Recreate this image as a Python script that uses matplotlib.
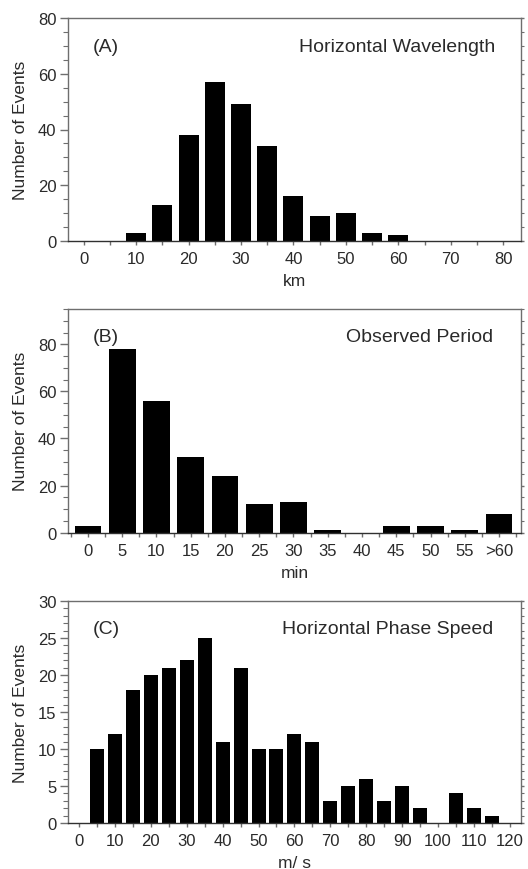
import numpy as np
import matplotlib.pyplot as plt
from matplotlib.ticker import MultipleLocator

plt.rcParams['font.family'] = ['Liberation Sans', 'DejaVu Sans']

# (A) horizontal wavelength, km
wl_bins = [10, 15, 20, 25, 30, 35, 40, 45, 50, 55, 60]
wl_counts = [3, 13, 38, 57, 49, 34, 16, 9, 10, 3, 2]

# (B) observed period, min
period_labels = ['0', '5', '10', '15', '20', '25', '30', '35', '40', '45', '50', '55', '>60']
period_counts = [3, 78, 56, 32, 24, 12, 13, 1, 0, 3, 3, 1, 8]

# (C) horizontal phase speed, m/s
speed_bins = [5, 10, 15, 20, 25, 30, 35, 40, 45, 50, 55, 60, 65, 70, 75, 80,
              85, 90, 95, 100, 105, 110, 115]
speed_counts = [10, 12, 18, 20, 21, 22, 25, 11, 21, 10, 10, 12, 11, 3, 5, 6,
                3, 5, 2, 0, 4, 2, 1]

spine_col = '#6e6e6e'
text_col = '#2a2a2a'


def style_axes(ax):
    for side in ['top', 'right', 'left', 'bottom']:
        ax.spines[side].set_color(spine_col)
        ax.spines[side].set_linewidth(1.0)
    ax.spines['bottom'].set_color('#303030')
    ax.tick_params(which='both', direction='out', colors=spine_col,
                   labelcolor=text_col, labelsize=12, right=True, top=False)
    # y ticks: long majors, shorter minors; right side ticks are tiny
    ax.tick_params(axis='y', which='major', length=5.8, width=1.0, pad=2.5)
    ax.tick_params(axis='y', which='minor', length=3.6, width=0.8)
    ax.tick_params(axis='x', which='both', length=2.9, width=1.0, pad=4.5)
    for t in ax.yaxis.get_major_ticks() + ax.yaxis.get_minor_ticks():
        t.tick2line.set_markersize(2.5)
    ax.set_ylabel('Number of Events', fontsize=12.5, color=text_col, labelpad=7)


fig = plt.figure(figsize=(5.28, 8.7), dpi=100)
left, width = 0.1288, 0.8579

# panel A
ax1 = fig.add_axes([left, 0.7218, width, 0.2564])
ax1.bar(wl_bins, wl_counts, width=3.8, color='black')
ax1.set_xlim(-3, 83.4)
ax1.set_ylim(0, 80)
ax1.xaxis.set_major_locator(MultipleLocator(10))
ax1.xaxis.set_minor_locator(MultipleLocator(5))
ax1.yaxis.set_major_locator(MultipleLocator(20))
ax1.yaxis.set_minor_locator(MultipleLocator(5))
style_axes(ax1)
ax1.set_xlabel('km', fontsize=12.5, color=text_col, labelpad=5)
ax1.text(0.055, 0.874, '(A)', transform=ax1.transAxes, fontsize=14,
         color=text_col, va='center', ha='left')
ax1.text(0.943, 0.874, 'Horizontal Wavelength', transform=ax1.transAxes,
         fontsize=14, color=text_col, va='center', ha='right')

# panel B
ax2 = fig.add_axes([left, 0.3866, width, 0.2571])
xpos = np.arange(len(period_labels))
ax2.bar(xpos, period_counts, width=0.78, color='black')
ax2.set_xlim(-0.58, 12.64)
ax2.set_ylim(0, 95)
ax2.set_xticks(xpos)
ax2.set_xticklabels(period_labels)
ax2.xaxis.set_minor_locator(MultipleLocator(0.5))
ax2.yaxis.set_major_locator(MultipleLocator(20))
ax2.yaxis.set_minor_locator(MultipleLocator(5))
style_axes(ax2)
ax2.set_xlabel('min', fontsize=12.5, color=text_col, labelpad=5)
ax2.text(0.055, 0.879, '(B)', transform=ax2.transAxes, fontsize=14,
         color=text_col, va='center', ha='left')
ax2.text(0.938, 0.879, 'Observed Period', transform=ax2.transAxes,
         fontsize=14, color=text_col, va='center', ha='right')

# panel C
ax3 = fig.add_axes([left, 0.0529, width, 0.2551])
ax3.bar(speed_bins, speed_counts, width=3.9, color='black')
ax3.set_xlim(-3.06, 123.1)
ax3.set_ylim(0, 30)
ax3.xaxis.set_major_locator(MultipleLocator(10))
ax3.xaxis.set_minor_locator(MultipleLocator(5))
ax3.yaxis.set_major_locator(MultipleLocator(5))
ax3.yaxis.set_minor_locator(MultipleLocator(1))
style_axes(ax3)
ax3.set_xlabel('m/ s', fontsize=12.5, color=text_col, labelpad=5)
ax3.text(0.055, 0.878, '(C)', transform=ax3.transAxes, fontsize=14,
         color=text_col, va='center', ha='left')
ax3.text(0.938, 0.878, 'Horizontal Phase Speed', transform=ax3.transAxes,
         fontsize=14, color=text_col, va='center', ha='right')

fig.savefig('out.png', dpi=100, facecolor='white')
plt.close(fig)
